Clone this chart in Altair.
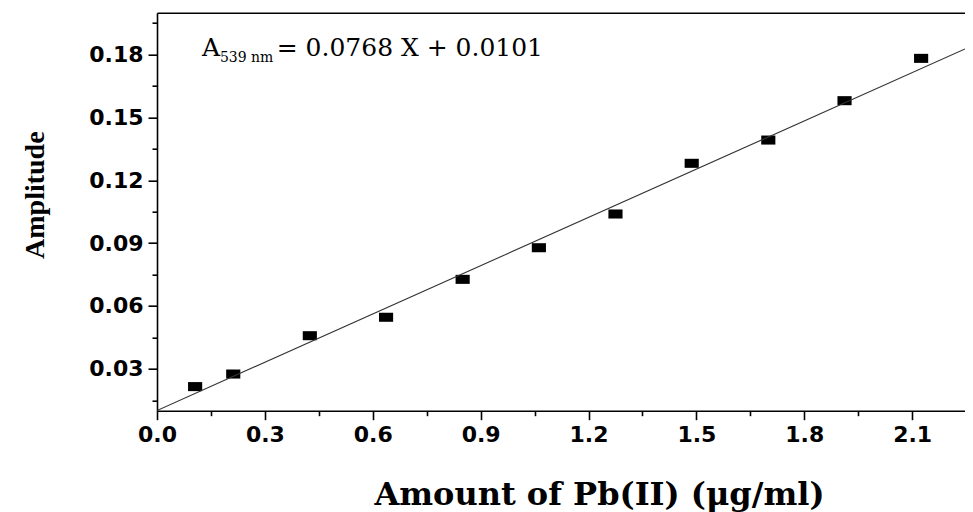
import altair as alt
import pandas as pd

# ---- data ----
conc = [0.106, 0.212, 0.425, 0.637, 0.850, 1.062, 1.275, 1.487, 1.700, 1.912, 2.125]
amp = [0.0215, 0.0275, 0.0458, 0.0546, 0.0727, 0.0878, 0.1039, 0.1281, 0.1392, 0.1580, 0.1782]
slope = 0.0768
intercept = 0.0101
x_domain = [0.0, 2.247]
y_domain = [0.01, 0.20]
x_major = [0.0, 0.3, 0.6, 0.9, 1.2, 1.5, 1.8, 2.1]
x_minor = [0.15, 0.45, 0.75, 1.05, 1.35, 1.65, 1.95]
y_major = [0.03, 0.06, 0.09, 0.12, 0.15, 0.18]
y_minor = [0.015, 0.045, 0.075, 0.105, 0.135, 0.165, 0.195]

eq_text = ["A", "539 nm", "= 0.0768 X + 0.0101"]
eq_x = [0.125, 0.175, 0.333]
eq_y = [0.1793, 0.1766, 0.1793]
eq_size = [25, 14, 25]

pts = pd.DataFrame({"x": conc, "y": amp})
fit = pd.DataFrame({"x": x_domain, "y": [slope * v + intercept for v in x_domain]})
eq = pd.DataFrame({"t": eq_text, "x": eq_x, "y": eq_y, "s": eq_size})

W, H = 808, 398
xs = alt.Scale(domain=x_domain, nice=False, zero=False)
ys = alt.Scale(domain=y_domain, nice=False, zero=False)

lab = dict(
    labelFont="DejaVu Sans", labelFontWeight="bold", labelFontSize=22,
    labelColor="black", labelPadding=5, labelOverlap=False, labelFlush=False,
    labelBound=False, grid=False,
)
line_style = dict(domainColor="black", domainWidth=1.6, tickColor="black", tickWidth=1.6)

x_axis = alt.Axis(
    orient="bottom", values=x_major, format=".1f", tickSize=9,
    title="Amount of Pb(II) (μg/ml)", titleFont="DejaVu Serif", titleFontSize=32,
    titleFontWeight="bold", titleColor="black",
    titleX=442, titleY=94, titleBaseline="alphabetic", titleAlign="center",
    **lab, **line_style,
)
y_axis = alt.Axis(
    orient="left", values=y_major, format=".2f", tickSize=9,
    title="Amplitude", titleFont="Liberation Serif", titleFontSize=28,
    titleFontWeight="bold", titleColor="black",
    titleX=-114, titleY=182, titleAngle=270, titleBaseline="alphabetic",
    titleAlign="center",
    **lab, **line_style,
)
x_minor_axis = alt.Axis(orient="bottom", values=x_minor, tickSize=5, labels=False,
                        domain=False, title=None, grid=False,
                        tickColor="black", tickWidth=1.6)
y_minor_axis = alt.Axis(orient="left", values=y_minor, tickSize=5, labels=False,
                        domain=False, title=None, grid=False,
                        tickColor="black", tickWidth=1.6)
top_axis = alt.Axis(orient="top", labels=False, ticks=False, title=None,
                    domain=True, domainColor="black", domainWidth=1.4, grid=False)

points = alt.Chart(pts).mark_point(
    shape="M-1,-0.64L1,-0.64L1,0.64L-1,0.64Z", size=200,
    filled=True, color="black", opacity=1,
).encode(x=alt.X("x:Q", scale=xs, axis=x_axis), y=alt.Y("y:Q", scale=ys, axis=y_axis))

minor = alt.Chart(pts).mark_point(opacity=0).encode(
    x=alt.X("x:Q", scale=xs, axis=x_minor_axis),
    y=alt.Y("y:Q", scale=ys, axis=y_minor_axis),
)

line = alt.Chart(fit).mark_line(color="#333333", strokeWidth=1.1, clip=True).encode(
    x=alt.X("x:Q", scale=xs, axis=top_axis), y=alt.Y("y:Q", scale=ys, axis=None)
)

eq_layer = alt.Chart(eq).mark_text(
    font="DejaVu Serif", align="left", baseline="alphabetic", color="black"
).encode(
    x=alt.X("x:Q", scale=xs, axis=None),
    y=alt.Y("y:Q", scale=ys, axis=None),
    text="t:N",
    size=alt.Size("s:Q", scale=None, legend=None),
)

chart = (
    alt.layer(points, minor, line, eq_layer)
    .resolve_axis(x="independent", y="independent")
    .properties(
        width=W, height=H,
        autosize=alt.AutoSizeParams(type="none"),
        padding={"left": 149, "top": 4.7, "right": 0, "bottom": 102},
        background="white",
    )
    .configure_view(stroke=None)
)

chart.save("out.html", embed_options={"renderer": "svg", "actions": False})
